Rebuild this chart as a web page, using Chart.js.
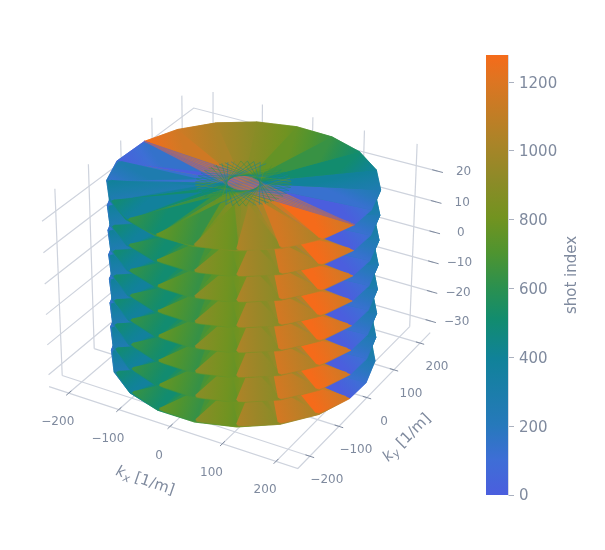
<!DOCTYPE html>
<html>
<head>
<meta charset="utf-8">
<script src="https://cdn.jsdelivr.net/npm/chart.js@4/dist/chart.umd.js"></script>
<style>body{margin:0;background:#fff}canvas{display:block}</style>
</head>
<body>
<canvas id="chart" width="605" height="550"></canvas>
<script>
const kxTicks = [-200, -100, 0, 100, 200];
const kyTicks = [-200, -100, 0, 100, 200];
const kzTicks = [-30, -20, -10, 0, 10, 20];
const shotTicks = [0, 200, 400, 600, 800, 1000, 1200];
const kxRange = [-240, 240];
const kyRange = [-240, 240];
const kzRange = [-34, 27];
const shotMax = 1279;

// stacked partitions and the spoke ends on the rim
const kzLevels = [-32, -24, -16, -8, 0, 8, 16, 24];
const rimRadius = 227;
const backAngles = [-8.5, 6, 24, 42, 60, 78, 96, 114, 132, 150, 168];
const backShots = [0, 128, 256, 384, 512, 640, 768, 896, 1024, 1152, 1279];
const frontAngles = [168, 189.5, 207.5, 225.5, 243.5, 261.5, 279.5, 297.5, 315.5, 333.5, 351.5];
const frontShots = [0, 128, 256, 384, 512, 640, 768, 896, 1024, 1152, 1279];
// what shows between the fans on the lower partitions
const gapShots = [0, 40, 165, 295, 420, 550, 680, 805, 935, 1060, 1190];
// each front fan runs against the overall sweep, high shot on its left corner
const fanShotLeft = [144, 272, 400, 528, 656, 784, 912, 1040, 1168, 1279];
const fanShotRight = [0, 122, 250, 378, 506, 634, 762, 890, 1018, 1146];
const hatchOffsets = [-24, -20, -16, -12, -8, -4, 0, 4, 8, 12, 16, 20, 24];
const spokeAngles = [175, 183, 191, 199, 207, 215, 223, 231, 239, 247, 255, 263, 271, 279, 287, 295, 303, 311, 319, 327, 335, 343];
const spokeShots = [330, 420, 510, 600, 690, 780, 330, 420, 510, 600, 690, 780, 330, 420, 510, 600, 690, 780, 330, 420, 510, 600];

const colorStops = [
  [0, [75, 94, 222]], [0.08, [62, 110, 214]], [0.16, [38, 121, 187]], [0.31, [16, 130, 153]],
  [0.4, [18, 140, 110]], [0.47, [42, 144, 80]], [0.55, [78, 148, 48]], [0.63, [114, 147, 32]],
  [0.72, [142, 138, 40]], [0.8, [170, 132, 40]], [0.94, [221, 117, 34]], [1, [245, 107, 26]]
];

// camera of the 3d scene, kx and ky in units of 240, kz in units of 30
const camera = [
  117.22941, 81.99987, -4.78511, 243.15810,
  28.80061, -50.07299, -96.94926, 257.67738,
  -0.02649, 0.04403, -0.02065
];

function project(kx, ky, kz) {
  const X = kx / 240, Y = ky / 240, Z = kz / 30;
  const w = camera[8] * X + camera[9] * Y + camera[10] * Z + 1;
  return {
    x: (camera[0] * X + camera[1] * Y + camera[2] * Z + camera[3]) / w,
    y: (camera[4] * X + camera[5] * Y + camera[6] * Z + camera[7]) / w
  };
}
function polar(r, deg, kz) {
  const a = deg * Math.PI / 180;
  return project(r * Math.cos(a), r * Math.sin(a), kz);
}
function shotColor(shot) {
  const t = Math.min(1, Math.max(0, shot / shotMax));
  let i = 1;
  while (i < colorStops.length - 1 && colorStops[i][0] < t) i++;
  const [t0, c0] = colorStops[i - 1], [t1, c1] = colorStops[i];
  const f = (t - t0) / (t1 - t0);
  const c = c0.map((v, n) => Math.round(v + (c1[n] - v) * f));
  return `rgb(${c[0]},${c[1]},${c[2]})`;
}

const canvas = document.getElementById('chart');
const ctx = canvas.getContext('2d');
const datasets = [];

function gradient(a, b, s0, s1) {
  const g = ctx.createLinearGradient(a.x, a.y, b.x, b.y);
  for (let i = 0; i <= 4; i++) g.addColorStop(i / 4, shotColor(s0 + (s1 - s0) * i / 4));
  return g;
}
function addLine(points, color, width) {
  datasets.push({ data: points, borderColor: color, borderWidth: width, fill: false, showLine: true, pointRadius: 0, clip: false, xAxisID: 'px', yAxisID: 'py' });
}
function addPolygon(points, color) {
  datasets.push({ data: points, backgroundColor: color, borderColor: color, borderWidth: 0.6, fill: 'shape', showLine: true, pointRadius: 0, clip: false, xAxisID: 'px', yAxisID: 'py' });
}

// box grid
const gridColor = '#ced3dd';
const tickColor = '#7f8a9e';
kxTicks.forEach(v => {
  addLine([project(v, kyRange[0], kzRange[0]), project(v, kyRange[1], kzRange[0])], gridColor, 1.2);
  addLine([project(v, kyRange[1], kzRange[0]), project(v, kyRange[1], kzRange[1])], gridColor, 1.2);
});
kyTicks.forEach(v => {
  addLine([project(kxRange[0], v, kzRange[0]), project(kxRange[1], v, kzRange[0])], gridColor, 1.2);
  addLine([project(kxRange[0], v, kzRange[0]), project(kxRange[0], v, kzRange[1])], gridColor, 1.2);
});
kzTicks.forEach(v => {
  addLine([project(kxRange[0], kyRange[0], v), project(kxRange[0], kyRange[1], v), project(kxRange[1], kyRange[1], v)], gridColor, 1.2);
});
addLine([project(kxRange[0], kyRange[0], kzRange[0]), project(kxRange[1], kyRange[0], kzRange[0]), project(kxRange[1], kyRange[1], kzRange[0])], gridColor, 1.2);
kxTicks.forEach(v => addLine([project(v, kyRange[0] - 8, kzRange[0]), project(v, kyRange[0] + 8, kzRange[0])], tickColor, 1));
kyTicks.forEach(v => addLine([project(kxRange[1] - 8, v, kzRange[0]), project(kxRange[1] + 8, v, kzRange[0])], tickColor, 1));
kzTicks.forEach(v => addLine([project(kxRange[1] - 10, kyRange[1], v), project(kxRange[1] + 10, kyRange[1], v)], tickColor, 1));

// side walls with a waist between partitions
const waist = rimRadius * 0.965;
function addWalls(angles, shots) {
  for (let j = 0; j < kzLevels.length - 1; j++) {
    const z0 = kzLevels[j], z1 = kzLevels[j + 1], zm = (z0 + z1) / 2;
    for (let k = 0; k < angles.length - 1; k++) {
      const a0 = angles[k], a1 = angles[k + 1];
      const c = gradient(polar(rimRadius, a0, z0), polar(rimRadius, a1, z0), shots[k], shots[k + 1]);
      addPolygon([polar(rimRadius, a0, z0), polar(rimRadius, a1, z0), polar(waist, a1, zm), polar(rimRadius, a1, z1), polar(rimRadius, a0, z1), polar(waist, a0, zm)], c);
    }
  }
}
function addDisc(angles, shots, z) {
  for (let k = 0; k < angles.length - 1; k++) {
    const p0 = polar(rimRadius, angles[k], z), p1 = polar(rimRadius, angles[k + 1], z);
    addPolygon([p0, p1, project(0, 0, z)], gradient(p0, p1, shots[k], shots[k + 1]));
  }
}
function addFans(z, apex) {
  for (let k = 0; k < frontAngles.length - 1; k++) {
    const a0 = frontAngles[k], a1 = frontAngles[k + 1];
    const c = gradient(polar(rimRadius, a0, z), polar(rimRadius, a1, z), fanShotLeft[k], fanShotRight[k]);
    addPolygon([
      polar(rimRadius * 0.96, a0 - 0.4, z), polar(rimRadius * 0.985, a0 + 0.6, z), polar(rimRadius * 0.985, a0 + 3, z),
      polar(rimRadius * 0.985, a1 - 3, z), polar(rimRadius * 0.985, a1 - 0.6, z), polar(rimRadius * 0.96, a1 + 0.4, z),
      polar(rimRadius * apex, (a0 + a1) / 2, z)
    ], c);
  }
}

addWalls(backAngles, backShots);
addWalls(frontAngles, gapShots);
const topZ = kzLevels[kzLevels.length - 1];
kzLevels.forEach(z => {
  addDisc(backAngles, backShots, z);
  addDisc(frontAngles, z === topZ ? frontShots : gapShots, z);
  addFans(z, z === topZ ? 0.33 : 0.5);
});

// crossing spokes along the seam of the top disc
const seamA = polar(rimRadius, backAngles[0], topZ);
const seamB = polar(rimRadius, backAngles[10], topZ);
addPolygon([seamA, polar(-24, 78, topZ), seamB, polar(24, 78, topZ)], 'rgba(150,112,122,0.8)');
hatchOffsets.forEach((h, i) => {
  addLine([seamA, polar(h, 78, topZ), seamB], i % 2 ? 'rgba(245,107,26,0.6)' : 'rgba(75,94,222,0.6)', 0.5);
});

// fine mesh of crossing chords round the middle of the top disc
const meshRadius = rimRadius * 0.35;
spokeAngles.forEach((a, i) => {
  const c = shotColor(spokeShots[i]);
  addLine([polar(meshRadius, a, topZ), polar(meshRadius, a + 140, topZ)], c, 0.5);
  addLine([polar(meshRadius, a + 180, topZ), polar(meshRadius, a + 320, topZ)], c, 0.5);
});

// colour bar, drawn against its own value axis
const barGradient = ctx.createLinearGradient(0, 495, 0, 55);
colorStops.forEach(s => barGradient.addColorStop(s[0], `rgb(${s[1].join(',')})`));
datasets.push({ data: [{ x: 486, y: 0 }, { x: 508, y: 0 }, { x: 508, y: shotMax }, { x: 486, y: shotMax }],
  backgroundColor: barGradient, borderWidth: 0, fill: 'shape', showLine: true, pointRadius: 0, clip: false, xAxisID: 'px', yAxisID: 'cb' });

function axisTitle(c, sub, x, y, angle) {
  c.save();
  c.translate(x, y);
  c.rotate(angle);
  c.textAlign = 'left';
  c.font = 'italic 15px "DejaVu Sans"';
  const w1 = c.measureText('k').width;
  c.font = 'italic 11px "DejaVu Sans"';
  const w2 = c.measureText(sub).width;
  c.font = '15px "DejaVu Sans"';
  const w3 = c.measureText(' [1/m]').width;
  let pos = -(w1 + w2 + w3) / 2;
  c.font = 'italic 15px "DejaVu Sans"';
  c.fillText('k', pos, 0);
  pos += w1;
  c.font = 'italic 11px "DejaVu Sans"';
  c.fillText(sub, pos, 4);
  pos += w2;
  c.font = '15px "DejaVu Sans"';
  c.fillText(' [1/m]', pos, 0);
  c.restore();
}
const labelsPlugin = {
  id: 'sceneLabels',
  afterDraw(chart) {
    const c = chart.ctx;
    c.save();
    c.fillStyle = tickColor;
    c.textAlign = 'center';
    c.textBaseline = 'middle';
    c.font = '12px "DejaVu Sans"';
    const fmt = v => String(v).replace('-', '\u2212');
    kxTicks.forEach(v => { const p = project(v, kyRange[0], kzRange[0]); c.fillText(fmt(v), p.x - 11, p.y + 29); });
    kyTicks.forEach(v => { const p = project(kxRange[1], v, kzRange[0]); c.fillText(fmt(v), p.x + 17, p.y + 24); });
    kzTicks.forEach(v => { const p = project(kxRange[1], kyRange[1], v); c.fillText(fmt(v), p.x + 26, p.y + 1); });
    axisTitle(c, 'x', 145, 481, 19 * Math.PI / 180);
    axisTitle(c, 'y', 407, 438, -45 * Math.PI / 180);
    c.translate(572, 275);
    c.rotate(-Math.PI / 2);
    c.font = '15px "DejaVu Sans"';
    c.fillText('shot index', 0, 0);
    c.restore();
  }
};

new Chart(canvas, {
  type: 'scatter',
  data: { datasets: datasets.slice().reverse() },
  plugins: [labelsPlugin],
  options: {
    responsive: false,
    animation: false,
    events: [],
    layout: { padding: { top: 55, bottom: 55, left: 0, right: 25 } },
    plugins: { legend: { display: false }, tooltip: { enabled: false } },
    scales: {
      px: { type: 'linear', display: false, min: 0, max: 508 },
      py: { type: 'linear', display: false, reverse: true, min: 55, max: 495 },
      cb: {
        type: 'linear', position: 'right', min: 0, max: shotMax,
        afterFit(scale) { scale.width = 72; },
        afterBuildTicks(scale) { scale.ticks = shotTicks.map(v => ({ value: v })); },
        grid: { drawOnChartArea: false, color: '#aab1bf', tickLength: 6 },
        border: { color: '#d6dae3' },
        ticks: { color: tickColor, padding: 5, labelOffset: 1.5, font: { family: 'DejaVu Sans', size: 15 }, callback: v => String(v) }
      }
    }
  }
});
</script>
</body>
</html>
